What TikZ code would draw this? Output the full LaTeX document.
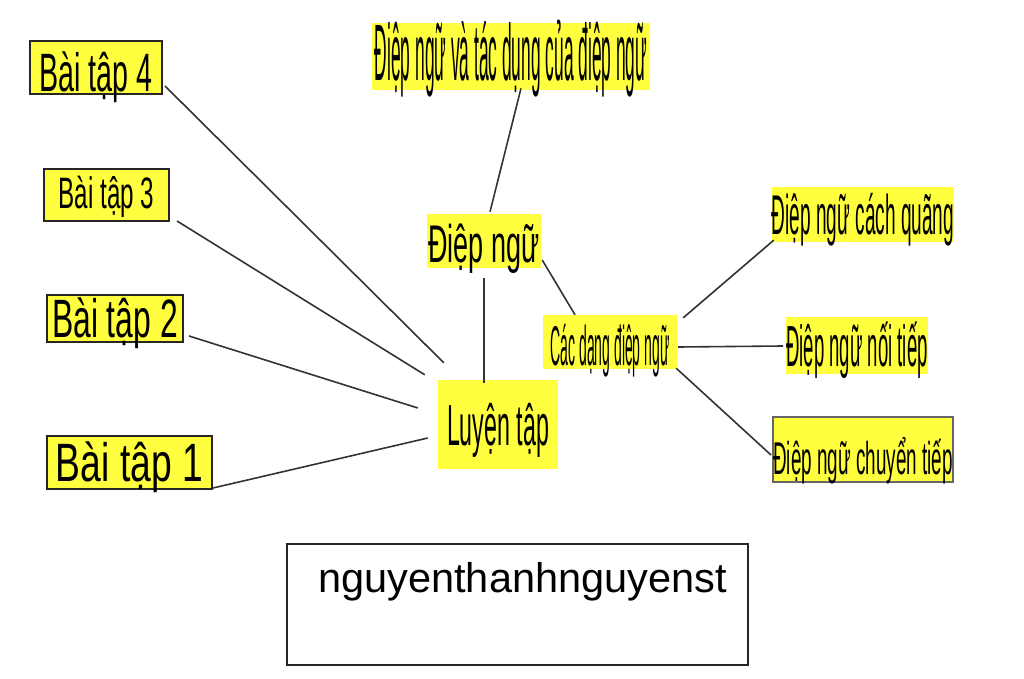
\documentclass[tikz,border=0pt]{standalone}
\usepackage{fontspec}
\setmainfont{Liberation Sans}
\usepackage{graphicx}

\definecolor{note_yellow}{RGB}{255,255,64}
\tikzstyle{task_box} = [rectangle, draw=black!85, line width=2pt, fill=note_yellow, inner sep=0pt, text depth=0pt]
\tikzstyle{topic_box} = [rectangle, fill=note_yellow, inner sep=0pt, text depth=0pt]
\tikzstyle{link} = [line width=1.6pt, draw=black!80]
\newcommand{\hsqueeze}[2]{\scalebox{#1}[1]{#2}}

\begin{document}
\begin{tikzpicture}[x=1pt, y=-1pt]
        \useasboundingbox (0,0) rectangle (1024,679);

        % exercises on the left
        \node (bt4) [task_box, minimum width=132pt, minimum height=53pt, font=\fontsize{54}{54}\selectfont, text height=47.7pt] at (96,67.5) {\hsqueeze{0.53}{Bài tập 4}};
        \node (bt3) [task_box, minimum width=125pt, minimum height=52pt, font=\fontsize{44}{44}\selectfont, text height=31.5pt, text depth=5pt] at (106.5,195) {\hsqueeze{0.55}{Bài tập 3}};
        \node (bt2) [task_box, minimum width=136pt, minimum height=47pt, font=\fontsize{54}{54}\selectfont, text height=38.7pt] at (115,318.5) {\hsqueeze{0.59}{Bài tập 2}};
        \node (bt1) [task_box, minimum width=165pt, minimum height=53pt, font=\fontsize{54}{54}\selectfont, text height=38.7pt] at (129.5,462.5) {\hsqueeze{0.69}{Bài tập 1}};

        % centre
        \node (lt) [topic_box, minimum width=120pt, minimum height=89pt, font=\fontsize{58}{58}\selectfont, text height=41.5pt] at (498,424.5) {\hsqueeze{0.40}{Luyện tập}};
        \node (dn) [topic_box, minimum width=114pt, minimum height=54pt, font=\fontsize{53}{53}\selectfont, text height=43.9pt] at (484,241) {\hsqueeze{0.51}{Điệp ngữ}};
        \node (td) [topic_box, minimum width=278pt, minimum height=67pt, font=\fontsize{80}{80}\selectfont, text height=57.3pt, text depth=10pt] at (511,56.5) {\hsqueeze{0.217}{Điệp ngữ và tác dụng của điệp ngữ}};
        \node (cd) [topic_box, minimum width=134pt, minimum height=54pt, font=\fontsize{56}{56}\selectfont, text height=46.1pt] at (610,342) {\hsqueeze{0.25}{Các dạng điệp ngữ}};

        % kinds on the right
        \node (cq) [topic_box, minimum width=180pt, minimum height=55pt, font=\fontsize{56}{56}\selectfont, text height=40.1pt] at (863,214.5) {\hsqueeze{0.34}{Điệp ngữ cách quãng}};
        \node (nt) [topic_box, minimum width=140pt, minimum height=57pt, font=\fontsize{58}{58}\selectfont, text height=41.5pt] at (857,345.5) {\hsqueeze{0.32}{Điệp ngữ nối tiếp}};
        \node (ct) [task_box, draw=black!60, minimum width=180pt, minimum height=65pt, font=\fontsize{46}{46}\selectfont, text height=50.9pt] at (863,449.5) {\hsqueeze{0.41}{Điệp ngữ chuyển tiếp}};

        % name box
        \node (sign) [rectangle, draw=black!85, line width=2pt, fill=white, inner sep=0pt, minimum width=461pt, minimum height=121pt, font=\fontsize{41.5}{41.5}\selectfont, text height=29.7pt, text depth=54.7pt] at (517.5,604.5) {\hspace*{10pt}nguyenthanhnguyenst};

        \draw [link] ([shift={(2,-9)}]bt4.south east) -- ([shift={(6,-17)}]lt.north west);
        \draw [link] ([shift={(7,-1)}]bt3.south east) -- ([shift={(-13,-5)}]lt.north west);
        \draw [link] ([shift={(5,-7)}]bt2.south east) -- ([shift={(-20,-16.5)}]lt.west);
        \draw [link] ([shift={(0,-2)}]bt1.south east) -- ([shift={(-10,13.5)}]lt.west);
        \draw [link] ([shift={(-14,3)}]lt.north) -- ([shift={(0,10)}]dn.south);
        \draw [link] ([shift={(6,-2)}]dn.north) -- ([shift={(10,-2)}]td.south);
        \draw [link] ([shift={(1,19)}]dn.east) -- ([shift={(-35,0)}]cd.north);
        \draw [link] ([shift={(6,3)}]cd.north east) -- ([shift={(2,-2)}]cq.south west);
        \draw [link] ([shift={(1,5)}]cd.east) -- ([shift={(-3,0.5)}]nt.west);
        \draw [link] ([shift={(-1,-1)}]cd.south east) -- ([shift={(-1,5.5)}]ct.west);
    \end{tikzpicture}
\end{document}
